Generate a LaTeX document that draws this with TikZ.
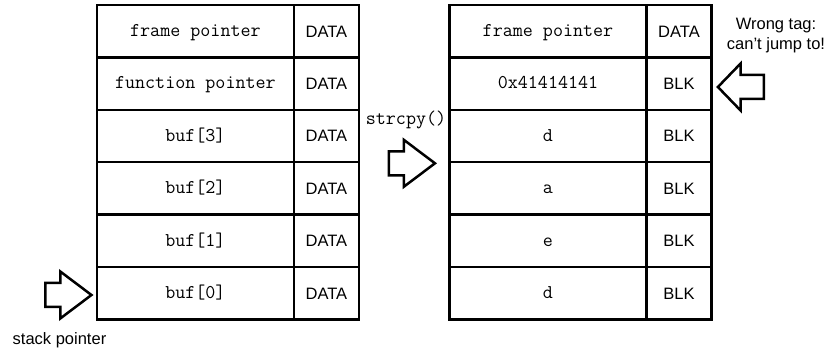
\documentclass[tikz,border=0pt]{standalone}
\usepackage{fontspec}
\setmainfont{Liberation Sans}
\usetikzlibrary{shapes.arrows,positioning}

\begin{document}
\begin{tikzpicture}[
  x=1pt, y=-1pt,
  slot/.style={rectangle, draw, line width=2.5pt, minimum width=197pt, minimum height=52.4pt,
    inner sep=0pt, outer sep=0pt, text height=11pt, text depth=0.4pt,
    font=\fontsize{19.5}{22}\selectfont\ttfamily},
  tagbox/.style={slot, minimum width=65pt, text height=11.9pt, text depth=0pt,
    font=\fontsize{16.5}{20}\selectfont},
  fat/.style={single arrow, draw, line width=2.5pt, minimum height=46pt, minimum width=44.5pt,
    text height=0pt, text depth=0pt, inner xsep=0pt, inner ysep=10.75pt,
    single arrow head extend=11.5pt, single arrow tip angle=74},
  note/.style={font=\fontsize{16.5}{20}\selectfont, align=center, inner sep=0pt}
]
\useasboundingbox (0,0) rectangle (828,352);

% stack before the copy
\node[slot] (lfp) at (195.4,31.2) {frame pointer};
\node[slot, below=0pt of lfp] (lfn) {function pointer};
\node[slot, below=0pt of lfn] (lb3) {buf[3]};
\node[slot, below=0pt of lb3] (lb2) {buf[2]};
\node[slot, below=0pt of lb2] (lb1) {buf[1]};
\node[slot, below=0pt of lb1] (lb0) {buf[0]};
\node[tagbox, right=0pt of lfp] (ltfp) {DATA};
\node[tagbox, right=0pt of lfn] (ltfn) {DATA};
\node[tagbox, right=0pt of lb3] (ltb3) {DATA};
\node[tagbox, right=0pt of lb2] (ltb2) {DATA};
\node[tagbox, right=0pt of lb1] (ltb1) {DATA};
\node[tagbox, right=0pt of lb0] (ltb0) {DATA};

% stack after the copy
\node[slot] (rfp) at (548,31.2) {frame pointer};
\node[slot, below=0pt of rfp] (rfn) {0x41414141};
\node[slot, below=0pt of rfn] (rb3) {d};
\node[slot, below=0pt of rb3] (rb2) {a};
\node[slot, below=0pt of rb2] (rb1) {e};
\node[slot, below=0pt of rb1] (rb0) {d};
\node[tagbox, right=0pt of rfp] (rtfp) {DATA};
\node[tagbox, right=0pt of rfn] (rtfn) {BLK};
\node[tagbox, right=0pt of rb3] (rtb3) {BLK};
\node[tagbox, right=0pt of rb2] (rtb2) {BLK};
\node[tagbox, right=0pt of rb1] (rtb1) {BLK};
\node[tagbox, right=0pt of rb0] (rtb0) {BLK};

% block arrows and notes
\node[fat] (sparrow) at (60.5,295) {};
\node[note] (splabel) at (59.5,340) {stack pointer};
\node[fat] (cparrow) at (404,163.3) {};
\node[note, font=\fontsize{19.5}{22}\selectfont\ttfamily] (cplabel) at (406,120) {strcpy()};
\node[fat, shape border rotate=180, single arrow tip angle=92] (tagarrow) at (746.7,87) {};
\node[note] (taglabel) at (776,36) {Wrong tag:\\can't jump to!};
\end{tikzpicture}
\end{document}
